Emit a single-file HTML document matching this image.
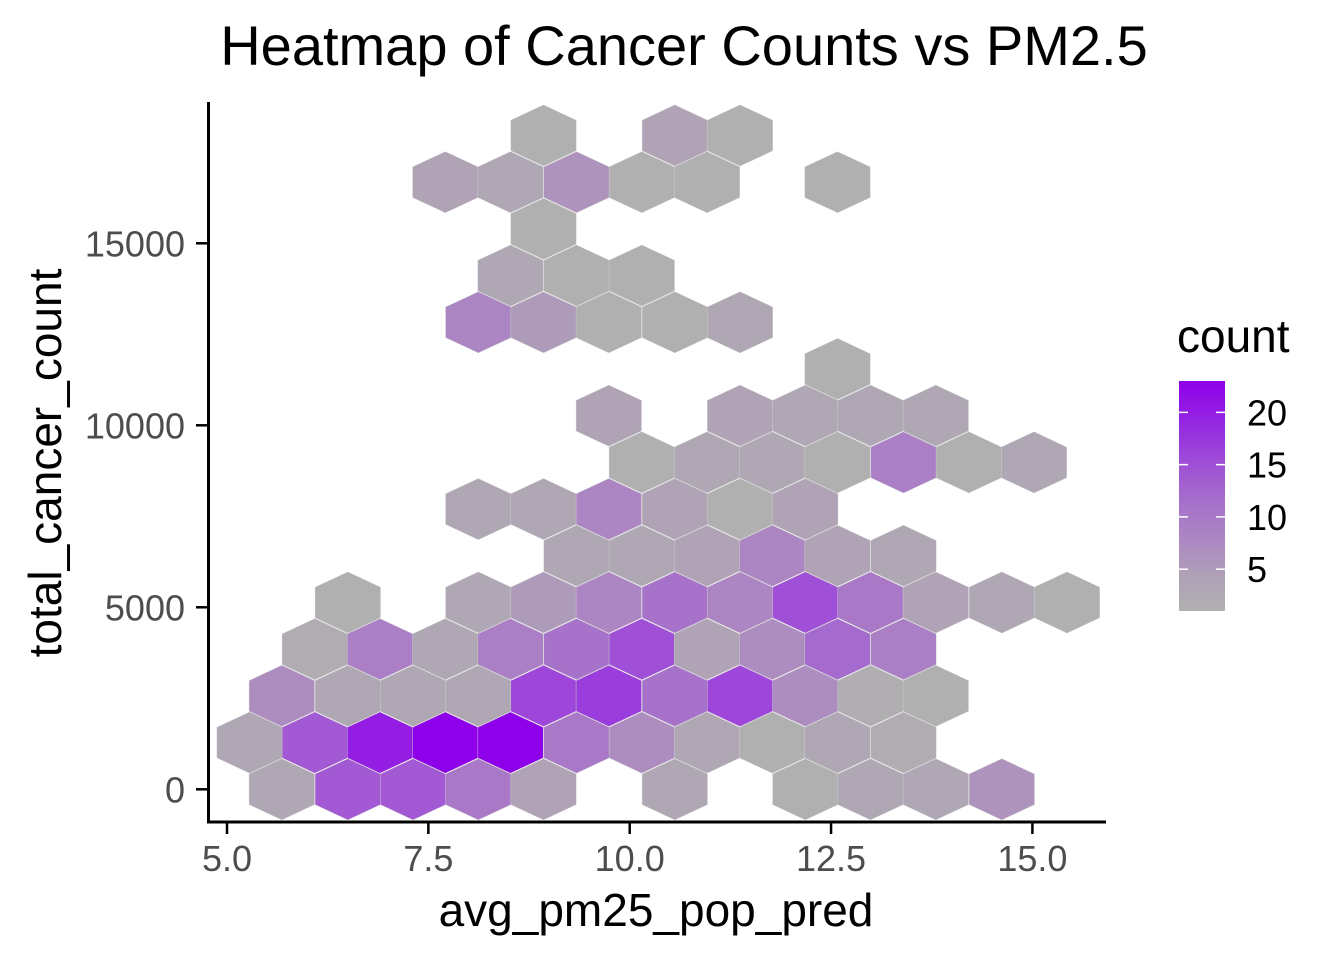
<!DOCTYPE html>
<html><head><meta charset="utf-8"><style>
html,body{margin:0;padding:0;background:#fff;}
svg{display:block;font-family:"Liberation Sans",Arial,sans-serif;}
</style></head><body>
<svg id="chart" width="1344" height="960" viewBox="0 0 1344 960">
<defs>
<linearGradient id="cbar" x1="0" y1="1" x2="0" y2="0"></linearGradient>
</defs>
<text x="684" y="65" font-size="56" text-anchor="middle" fill="#000">Heatmap of Cancer Counts vs PM2.5</text>
<g id="hexes"></g>
<g id="axes"></g>
<text x="656" y="926" font-size="46" text-anchor="middle" fill="#000">avg_pm25_pop_pred</text>
<text transform="translate(61,463) rotate(-90)" font-size="46" text-anchor="middle" fill="#000">total_cancer_count</text>
<g id="legend">
<text x="1177" y="352" font-size="46" fill="#000">count</text>
<rect x="1179" y="381" width="46" height="230" fill="url(#cbar)"></rect>
</g>
</svg>
<script>
const xTicks = [5.0, 7.5, 10.0, 12.5, 15.0];
const xTickLabels = ["5.0", "7.5", "10.0", "12.5", "15.0"];
const yTicks = [0, 5000, 10000, 15000];
const yTickLabels = ["0", "5000", "10000", "15000"];
const legendTicks = [5, 10, 15, 20];
const countMin = 1, countMax = 23;
const hexX = [
5.68,6.50,7.31,8.12,8.93,10.56,12.18,12.99,13.80,14.62,
5.28,6.09,6.90,7.71,8.52,9.34,10.15,10.96,11.77,12.58,13.40,
5.68,6.50,7.31,8.12,8.93,9.74,10.56,11.37,12.18,12.99,13.80,
6.09,6.90,7.71,8.52,9.34,10.15,10.96,11.77,12.58,13.40,
6.50,8.12,8.93,9.74,10.56,11.37,12.18,12.99,13.80,14.62,15.43,
9.34,10.15,10.96,11.77,12.58,13.40,
8.12,8.93,9.74,10.56,11.37,12.18,
10.15,10.96,11.77,12.58,13.40,14.21,15.02,
9.74,11.37,12.18,12.99,13.80,
12.58,
8.12,8.93,9.74,10.56,11.37,
8.52,9.34,10.15,
8.93,
7.71,8.52,9.34,10.15,10.96,12.58,
8.93,10.56,11.37];
const hexY = [
0,0,0,0,0,0,0,0,0,0,
1283,1283,1283,1283,1283,1283,1283,1283,1283,1283,1283,
2566,2566,2566,2566,2566,2566,2566,2566,2566,2566,2566,
3849,3849,3849,3849,3849,3849,3849,3849,3849,3849,
5132,5132,5132,5132,5132,5132,5132,5132,5132,5132,5132,
6415,6415,6415,6415,6415,6415,
7698,7698,7698,7698,7698,7698,
8981,8981,8981,8981,8981,8981,8981,
10264,10264,10264,10264,10264,
11547,
12830,12830,12830,12830,12830,
14113,14113,14113,
15396,
16679,16679,16679,16679,16679,16679,
17962,17962,17962];
const hexCount = [
3,14,14,10,4,3,1,3,3,6,
3,14,20,23,23,10,7,3,1,3,2,
7,3,3,3,16,17,11,16,7,1.5,1,
2,9,3,9,11,15,4,7,12,9,
1,3,5,8,11,8,15,10,4,3,1,
3,3,4,8,4,3,
3,3,8,4,1,4,
1,3,3,1,9,1,3,
4,4,3,3,3,
1,
8,5,1,1,3,
3,1,1,
1,
4,3,6,1,1,1,
1,4,1];

const NS = "http://www.w3.org/2000/svg";
const X0 = 227.0, XS = 80.54;
const Y0 = 789.3, YS = 0.0364;
function sx(v){ return X0 + (v - 5) * XS; }
function sy(v){ return Y0 - v * YS; }
const stops = [[1,[176,176,176]],[4,[175,163,181]],[7,[173,140,192]],[11,[167,114,202]],[15,[160,80,214]],[19,[149,39,225]],[23,[143,0,234]]];
function colorFor(c){
  if (c <= stops[0][0]) return rgb(stops[0][1]);
  for (let i = 1; i < stops.length; i++) {
    if (c <= stops[i][0]) {
      const a = stops[i-1], b = stops[i], t = (c - a[0]) / (b[0] - a[0]);
      return rgb(a[1].map((v,j)=>v + (b[1][j]-v)*t));
    }
  }
  return rgb(stops[stops.length-1][1]);
}
function rgb(a){ return "rgb(" + a.map(v=>Math.round(v)).join(",") + ")"; }

const hexG = document.getElementById("hexes");
const HW = 0.406, HR = 840;
for (let i = 0; i < hexX.length; i++) {
  const cx = hexX[i], cy = hexY[i];
  const pts = [[cx, cy+HR],[cx+HW, cy+HR/2],[cx+HW, cy-HR/2],[cx, cy-HR],[cx-HW, cy-HR/2],[cx-HW, cy+HR/2]]
    .map(p => sx(p[0]).toFixed(1) + "," + sy(p[1]).toFixed(1)).join(" ");
  const p = document.createElementNS(NS, "polygon");
  p.setAttribute("points", pts);
  p.setAttribute("fill", colorFor(hexCount[i]));
  p.setAttribute("stroke", "#d0d0d0");
  p.setAttribute("stroke-width", "0.4");
  
  
  hexG.appendChild(p);
}

const ax = document.getElementById("axes");
function line(x1,y1,x2,y2,name,w,col){
  const l = document.createElementNS(NS, "line");
  l.setAttribute("x1",x1); l.setAttribute("y1",y1); l.setAttribute("x2",x2); l.setAttribute("y2",y2);
  l.setAttribute("stroke", col || "#000"); l.setAttribute("stroke-width", w || 2.2);
  
  
  return l;
}
function text(x,y,s,anchor,name,size,fill){
  const t = document.createElementNS(NS, "text");
  t.setAttribute("x",x); t.setAttribute("y",y); t.setAttribute("text-anchor",anchor);
  t.setAttribute("font-size", size || 36); t.setAttribute("fill", fill || "#4d4d4d");
  t.textContent = s;
  
  
  return t;
}
ax.appendChild(line(208.5,102,208.5,823,"y-axis-line",3));
ax.appendChild(line(207,822,1106,822,"x-axis-line",3));
xTicks.forEach((v,i)=>{
  ax.appendChild(line(sx(v),822,sx(v),834,"x-tick",2.5));
  ax.appendChild(text(sx(v),871,xTickLabels[i],"middle","x-tick-label"));
});
yTicks.forEach((v,i)=>{
  ax.appendChild(line(196,sy(v),208.5,sy(v),"y-tick",2.5));
  ax.appendChild(text(185,sy(v)+13,yTickLabels[i],"end","y-tick-label"));
});

const grad = document.getElementById("cbar");
for (let k = 0; k <= 20; k++) {
  const c = countMin + (countMax - countMin) * k / 20;
  const st = document.createElementNS(NS, "stop");
  st.setAttribute("offset", (k/20*100) + "%");
  st.setAttribute("stop-color", colorFor(c));
  grad.appendChild(st);
}
const lg = document.getElementById("legend");
const LB = 611, LT = 381;
function ly(c){ return LB - (c - countMin) / (countMax - countMin) * (LB - LT); }
legendTicks.forEach(v=>{
  lg.appendChild(line(1179,ly(v),1188,ly(v),"legend-tick",1.5,"#fff"));
  lg.appendChild(line(1216,ly(v),1225,ly(v),"legend-tick",1.5,"#fff"));
  lg.appendChild(text(1247,ly(v)+13,String(v),"start","legend-label",36,"#000"));
});
</script>
</body></html>
